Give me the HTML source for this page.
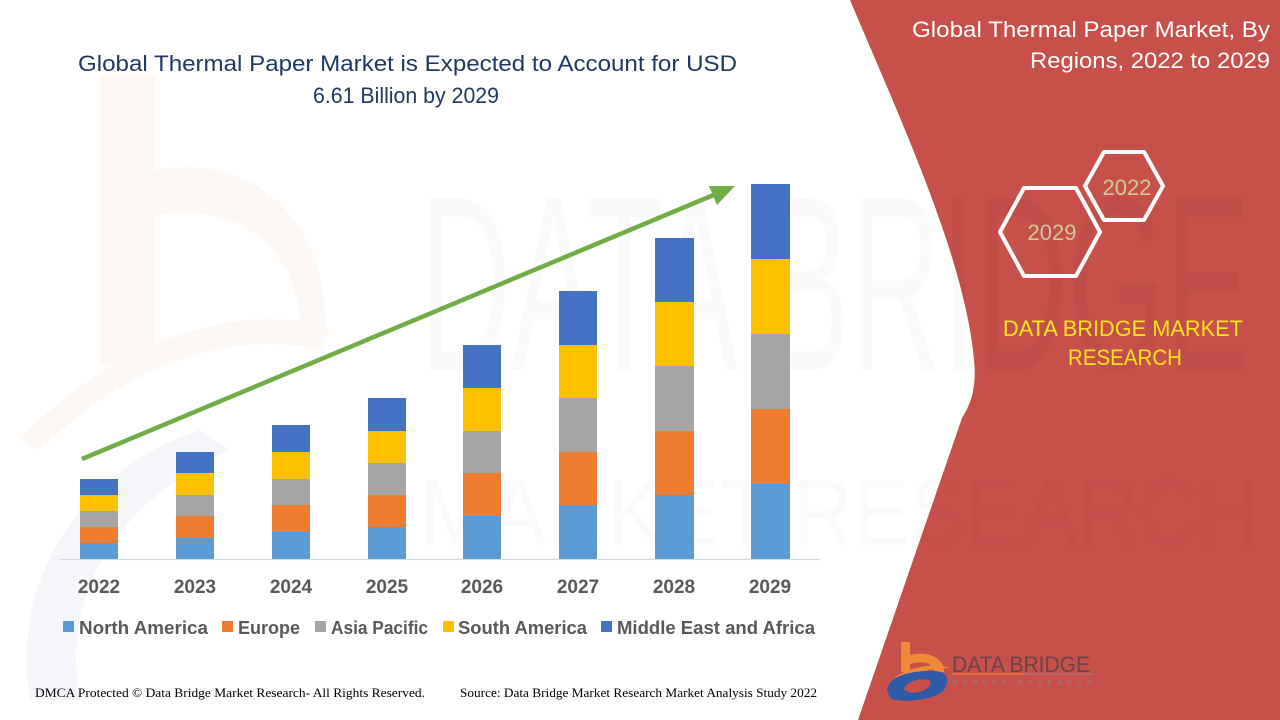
<!DOCTYPE html>
<html>
<head>
<meta charset="utf-8">
<style>
html,body{margin:0;padding:0;background:#fff;}
svg{display:block;}
</style>
</head>
<body>
<svg width="1280" height="720" viewBox="0 0 1280 720" xmlns="http://www.w3.org/2000/svg">
  <defs>
    <clipPath id="redclip">
      <path d="M850,0 C905,130 965,260 974,360 C977,390 970,405 962,418 L858,720 L1280,720 L1280,0 Z"/>
    </clipPath>
  </defs>
  <rect x="0" y="0" width="1280" height="720" fill="#ffffff"/>

  <!-- faint watermark "b" logo on left -->
  <g>
    <rect x="100" y="75" width="55" height="290" fill="#fef8f5"/>
    <path d="M155,170 C260,150 330,230 325,330 L300,330 C300,250 240,200 155,215 Z" fill="#fef8f5"/>
    <path d="M20,440 C120,330 260,300 330,330 L320,350 C240,330 130,360 40,450 Z" fill="#fef8f5"/>
    <path d="M30,700 C10,580 80,470 200,430 L230,450 C120,500 60,590 80,700 Z" fill="#f5f6fa"/>
  </g>

  <!-- faint watermark big text -->
  <text x="420" y="370" font-family="Liberation Sans, sans-serif" font-size="250" fill="#000" fill-opacity="0.02" textLength="830" lengthAdjust="spacingAndGlyphs">DATA BRIDGE</text>
  <text x="420" y="545" font-family="Liberation Sans, sans-serif" font-size="95" fill="#000" fill-opacity="0.018" textLength="840" lengthAdjust="spacingAndGlyphs">MARKET RESEARCH</text>

  <!-- red right panel -->
  <path d="M850,0 C905,130 965,260 974,360 C977,390 970,405 962,418 L858,720 L1280,720 L1280,0 Z" fill="#c8504b"/>
  <g clip-path="url(#redclip)">
    <text x="420" y="370" font-family="Liberation Sans, sans-serif" font-size="250" fill="#000" fill-opacity="0.03" textLength="830" lengthAdjust="spacingAndGlyphs">DATA BRIDGE</text>
    <text x="420" y="545" font-family="Liberation Sans, sans-serif" font-size="95" fill="#000" fill-opacity="0.02" textLength="840" lengthAdjust="spacingAndGlyphs">MARKET RESEARCH</text>
  </g>

  <!-- Title -->
  <text x="78" y="71" font-family="Liberation Sans, sans-serif" font-size="22" fill="#1f3864" textLength="659" lengthAdjust="spacingAndGlyphs">Global Thermal Paper Market is Expected to Account for USD</text>
  <text x="313" y="103" font-family="Liberation Sans, sans-serif" font-size="22" fill="#1f3864" textLength="186" lengthAdjust="spacingAndGlyphs">6.61 Billion by 2029</text>

  <!-- axis line -->
  <line x1="60" y1="559.5" x2="820" y2="559.5" stroke="#d9d9d9" stroke-width="1.2"/>

  <!-- bars -->
  <g>
    <rect x="80" y="543" width="38" height="16" fill="#5b9bd5"/>
    <rect x="80" y="527" width="38" height="16" fill="#ed7d31"/>
    <rect x="80" y="511" width="38" height="16" fill="#a5a5a5"/>
    <rect x="80" y="495" width="38" height="16" fill="#ffc000"/>
    <rect x="80" y="479" width="38" height="16" fill="#4472c4"/>

    <rect x="176" y="538" width="38" height="21" fill="#5b9bd5"/>
    <rect x="176" y="516" width="38" height="22" fill="#ed7d31"/>
    <rect x="176" y="495" width="38" height="21" fill="#a5a5a5"/>
    <rect x="176" y="473" width="38" height="22" fill="#ffc000"/>
    <rect x="176" y="452" width="38" height="21" fill="#4472c4"/>

    <rect x="272" y="532" width="38" height="27" fill="#5b9bd5"/>
    <rect x="272" y="505" width="38" height="27" fill="#ed7d31"/>
    <rect x="272" y="479" width="38" height="26" fill="#a5a5a5"/>
    <rect x="272" y="452" width="38" height="27" fill="#ffc000"/>
    <rect x="272" y="425" width="38" height="27" fill="#4472c4"/>

    <rect x="368" y="527" width="38" height="32" fill="#5b9bd5"/>
    <rect x="368" y="495" width="38" height="32" fill="#ed7d31"/>
    <rect x="368" y="463" width="38" height="32" fill="#a5a5a5"/>
    <rect x="368" y="431" width="38" height="32" fill="#ffc000"/>
    <rect x="368" y="398" width="38" height="33" fill="#4472c4"/>

    <rect x="463" y="516" width="38" height="43" fill="#5b9bd5"/>
    <rect x="463" y="473" width="38" height="43" fill="#ed7d31"/>
    <rect x="463" y="431" width="38" height="42" fill="#a5a5a5"/>
    <rect x="463" y="388" width="38" height="43" fill="#ffc000"/>
    <rect x="463" y="345" width="38" height="43" fill="#4472c4"/>

    <rect x="559" y="505" width="38" height="54" fill="#5b9bd5"/>
    <rect x="559" y="452" width="38" height="53" fill="#ed7d31"/>
    <rect x="559" y="398" width="38" height="54" fill="#a5a5a5"/>
    <rect x="559" y="345" width="38" height="53" fill="#ffc000"/>
    <rect x="559" y="291" width="38" height="54" fill="#4472c4"/>

    <rect x="655" y="495" width="39" height="64" fill="#5b9bd5"/>
    <rect x="655" y="431" width="39" height="64" fill="#ed7d31"/>
    <rect x="655" y="366" width="39" height="65" fill="#a5a5a5"/>
    <rect x="655" y="302" width="39" height="64" fill="#ffc000"/>
    <rect x="655" y="238" width="39" height="64" fill="#4472c4"/>

    <rect x="751" y="484" width="39" height="75" fill="#5b9bd5"/>
    <rect x="751" y="409" width="39" height="75" fill="#ed7d31"/>
    <rect x="751" y="334" width="39" height="75" fill="#a5a5a5"/>
    <rect x="751" y="259" width="39" height="75" fill="#ffc000"/>
    <rect x="751" y="184" width="39" height="75" fill="#4472c4"/>
  </g>

  <!-- arrow -->
  <line x1="82" y1="459" x2="716" y2="194" stroke="#70ad47" stroke-width="4.5"/>
  <polygon points="735,186 717,205 709,186" fill="#70ad47"/>

  <!-- year labels -->
  <g font-family="Liberation Sans, sans-serif" font-size="19" font-weight="bold" fill="#595959" text-anchor="middle">
    <text x="99" y="593">2022</text>
    <text x="195" y="593">2023</text>
    <text x="291" y="593">2024</text>
    <text x="387" y="593">2025</text>
    <text x="482" y="593">2026</text>
    <text x="578" y="593">2027</text>
    <text x="674" y="593">2028</text>
    <text x="770" y="593">2029</text>
  </g>

  <!-- legend -->
  <g font-family="Liberation Sans, sans-serif" font-size="18" font-weight="bold" fill="#595959">
    <rect x="63" y="621" width="11" height="11" fill="#5b9bd5"/>
    <text x="79" y="634" textLength="129" lengthAdjust="spacingAndGlyphs">North America</text>
    <rect x="222" y="621" width="11" height="11" fill="#ed7d31"/>
    <text x="238" y="634" textLength="62" lengthAdjust="spacingAndGlyphs">Europe</text>
    <rect x="315" y="621" width="11" height="11" fill="#a5a5a5"/>
    <text x="331" y="634" textLength="97" lengthAdjust="spacingAndGlyphs">Asia Pacific</text>
    <rect x="443" y="621" width="11" height="11" fill="#ffc000"/>
    <text x="458" y="634" textLength="129" lengthAdjust="spacingAndGlyphs">South America</text>
    <rect x="601" y="621" width="11" height="11" fill="#4472c4"/>
    <text x="617" y="634" textLength="198" lengthAdjust="spacingAndGlyphs">Middle East and Africa</text>
  </g>

  <!-- footer -->
  <text x="35" y="697" font-family="Liberation Serif, serif" font-size="12.5" fill="#000" textLength="390" lengthAdjust="spacingAndGlyphs">DMCA Protected © Data Bridge Market Research- All Rights Reserved.</text>
  <text x="460" y="697" font-family="Liberation Serif, serif" font-size="12.5" fill="#000" textLength="357" lengthAdjust="spacingAndGlyphs">Source: Data Bridge Market Research Market Analysis Study 2022</text>

  <!-- right panel title -->
  <text x="1270" y="37" text-anchor="end" font-family="Liberation Sans, sans-serif" font-size="22" fill="#ffffff" textLength="358" lengthAdjust="spacingAndGlyphs">Global Thermal Paper Market, By</text>
  <text x="1270" y="68" text-anchor="end" font-family="Liberation Sans, sans-serif" font-size="22" fill="#ffffff" textLength="240" lengthAdjust="spacingAndGlyphs">Regions, 2022 to 2029</text>

  <!-- hexagons -->
  <polygon points="1085,186 1104,152 1144,152 1163,186 1144,220 1104,220" fill="none" stroke="#ffffff" stroke-width="4" stroke-linejoin="round"/>
  <polygon points="1000,232 1024,188 1076,188 1100,232 1076,276 1024,276" fill="none" stroke="#ffffff" stroke-width="4" stroke-linejoin="round"/>
  <text x="1127" y="195" text-anchor="middle" font-family="Liberation Sans, sans-serif" font-size="22" fill="#cfc9a0">2022</text>
  <text x="1052" y="240" text-anchor="middle" font-family="Liberation Sans, sans-serif" font-size="22" fill="#cfc9a0">2029</text>

  <!-- DATA BRIDGE MARKET RESEARCH -->
  <text x="1003" y="336" font-family="Liberation Sans, sans-serif" font-size="22" fill="#ffe41c" textLength="240" lengthAdjust="spacingAndGlyphs">DATA BRIDGE MARKET</text>
  <text x="1068" y="365" font-family="Liberation Sans, sans-serif" font-size="22" fill="#ffe41c" textLength="114" lengthAdjust="spacingAndGlyphs">RESEARCH</text>

  <!-- bottom logo -->
  <g>
    <rect x="901" y="642" width="9" height="30" fill="#f08a3a"/>
    <path d="M910,655 C930,650 945,660 944,672 L934,672 C934,664 925,660 910,664 Z" fill="#f08a3a"/>
    <path d="M895,678 C905,668 935,662 950,668 C935,668 912,672 898,682 Z" fill="#f08a3a"/>
    <path d="M887,690 C888,676 912,670 935,671 C948,672 950,680 944,690 C936,700 900,704 890,698 Z" fill="#2e5aa8"/>
    <path d="M904,690 C906,681 920,678 930,680 C932,686 926,692 912,693 Z" fill="#c8504b"/>
    <text x="952" y="672" font-family="Liberation Sans, sans-serif" font-size="22" fill="#6b4444" textLength="138" lengthAdjust="spacingAndGlyphs">DATA BRIDGE</text>
    <line x1="952" y1="674" x2="1025" y2="674" stroke="#f08a3a" stroke-width="1"/>
    <line x1="1025" y1="674" x2="1093" y2="674" stroke="#a08080" stroke-width="1"/>
    <text x="952" y="685" font-family="Liberation Sans, sans-serif" font-size="7" fill="#a07878" textLength="140" lengthAdjust="spacing">MARKET   RESEARCH</text>
  </g>
</svg>
</body>
</html>
